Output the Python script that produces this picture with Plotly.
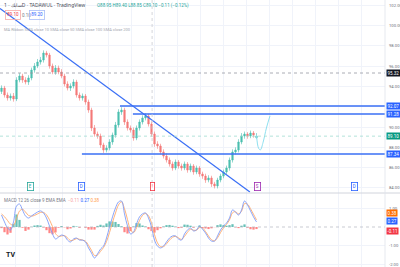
import plotly.graph_objects as go

# ---------------- data ----------------
idx = list(range(86))
opens = [93.50, 93.84, 93.15, 92.86, 93.05, 92.76, 94.63, 95.02, 94.63, 94.43,
         94.83, 95.61, 96.01, 96.40, 96.60, 97.29, 97.09, 96.01, 95.42, 95.81,
         95.42, 95.02, 94.24, 93.84, 94.04, 94.43, 93.15, 92.86, 93.05, 92.46,
         91.67, 89.90, 89.31, 89.11, 88.23, 87.73, 87.93, 88.52, 89.21, 90.20,
         91.48, 91.67, 90.49, 89.90, 89.70, 88.92, 89.90, 90.49, 90.89, 91.08,
         90.30, 89.31, 88.33, 88.13, 87.54, 87.14, 86.75, 86.36, 85.96, 86.55,
         86.16, 85.96, 86.36, 85.76, 86.16, 85.57, 85.96, 85.37, 85.17, 84.78,
         84.98, 84.39, 84.19, 84.78, 85.17, 85.57, 85.96, 86.75, 87.54, 87.73,
         88.52, 89.11, 89.31, 89.11, 89.41, 88.95]
closes = [93.84, 93.15, 92.86, 93.05, 92.76, 94.63, 95.02, 94.63, 94.43, 94.83,
          95.61, 96.01, 96.40, 96.60, 97.29, 97.09, 96.01, 95.42, 95.81, 95.42,
          95.02, 94.24, 93.84, 94.04, 94.43, 93.15, 92.86, 93.05, 92.46, 91.67,
          89.90, 89.31, 89.11, 88.23, 87.73, 87.93, 88.52, 89.21, 90.20, 91.48,
          91.67, 90.49, 89.90, 89.70, 88.92, 89.90, 90.49, 90.89, 91.08, 90.30,
          89.31, 88.33, 88.13, 87.54, 87.14, 86.75, 86.36, 85.96, 86.55, 86.16,
          85.96, 86.36, 85.76, 86.16, 85.57, 85.96, 85.37, 85.17, 84.78, 84.98,
          84.39, 84.19, 84.78, 85.17, 85.57, 85.96, 86.75, 87.54, 87.73, 88.52,
          89.11, 89.31, 89.11, 89.41, 89.21, 89.10]
highs = [94.10, 94.05, 93.40, 93.30, 93.35, 94.90, 95.30, 95.25, 94.90, 95.10,
         95.85, 96.30, 96.70, 96.90, 97.55, 97.50, 97.30, 96.25, 96.10, 96.05,
         95.70, 95.25, 94.50, 94.30, 94.70, 94.65, 93.40, 93.30, 93.25, 92.70,
         91.90, 90.20, 89.55, 89.35, 88.45, 88.20, 88.80, 89.45, 90.50, 91.75,
         91.95, 91.90, 90.75, 90.15, 89.95, 90.15, 90.75, 91.15, 91.35, 91.30,
         90.55, 89.55, 88.60, 88.35, 87.80, 87.40, 87.00, 86.60, 86.80, 86.75,
         86.40, 86.60, 86.55, 86.40, 86.35, 86.20, 86.15, 85.60, 85.40, 85.25,
         85.20, 84.60, 85.00, 85.40, 85.80, 86.20, 87.00, 87.80, 88.00, 88.80,
         89.40, 89.55, 89.50, 89.65, 89.60, 89.40]
lows = [93.25, 92.90, 92.60, 92.60, 92.50, 92.55, 94.40, 94.35, 94.20, 94.15,
        94.60, 95.35, 95.80, 96.15, 96.35, 96.85, 95.75, 95.20, 95.15, 95.20,
        94.80, 94.00, 93.60, 93.55, 93.80, 92.90, 92.60, 92.60, 92.20, 91.40,
        89.60, 89.05, 88.85, 87.95, 87.45, 87.50, 87.70, 88.25, 88.95, 89.95,
        91.20, 90.20, 89.65, 89.45, 88.65, 88.70, 89.65, 90.25, 90.65, 90.05,
        89.05, 88.05, 87.85, 87.30, 86.90, 86.50, 86.10, 85.70, 85.75, 85.90,
        85.70, 85.75, 85.50, 85.55, 85.30, 85.35, 85.10, 84.90, 84.50, 84.55,
        84.10, 83.95, 83.95, 84.55, 84.95, 85.35, 85.70, 86.50, 87.30, 87.50,
        88.30, 88.85, 88.85, 88.90, 88.95, 88.85]

macd = [0.64, 0.27, -0.05, -0.16, 0.27, 1.12, 1.23, 0.91, 0.59, 0.48,
        0.59, 0.70, 0.80, 0.86, 0.75, 0.48, 0.05, -0.37, -0.64, -0.54,
        -0.43, -0.48, -0.70, -0.80, -0.64, -0.59, -0.70, -0.70, -0.80, -1.12,
        -1.39, -1.66, -1.44, -1.18, -1.02, -0.59, 0.00, 0.54, 1.02, 1.34,
        1.39, 0.70, 0.05, -0.37, -0.27, 0.16, 0.54, 0.70, 0.75, 0.48,
        0.00, -0.70, -1.02, -1.12, -1.02, -0.80, -0.59, -0.48, -0.48, -0.64,
        -0.70, -0.37, -0.16, -0.05, -0.21, -0.16, 0.05, -0.11, -0.32, -0.59,
        -0.75, -0.75, -0.48, -0.16, 0.05, 0.21, 0.48, 0.91, 0.80, 0.64,
        0.91, 1.39, 1.18, 0.86, 0.54, 0.27]
signal = [0.70, 0.55, 0.35, 0.15, 0.10, 0.45, 0.85, 0.95, 0.80, 0.62,
          0.58, 0.62, 0.70, 0.78, 0.78, 0.65, 0.38, 0.02, -0.35, -0.50,
          -0.48, -0.46, -0.58, -0.72, -0.70, -0.62, -0.66, -0.70, -0.76, -0.98,
          -1.25, -1.52, -1.50, -1.30, -1.10, -0.78, -0.30, 0.25, 0.75, 1.18,
          1.35, 0.98, 0.40, -0.15, -0.30, -0.05, 0.35, 0.62, 0.72, 0.60,
          0.22, -0.40, -0.85, -1.05, -1.05, -0.90, -0.70, -0.55, -0.50, -0.58,
          -0.66, -0.50, -0.28, -0.12, -0.17, -0.17, -0.03, -0.05, -0.24, -0.48,
          -0.68, -0.74, -0.58, -0.30, -0.05, 0.14, 0.38, 0.76, 0.82, 0.70,
          0.84, 1.25, 1.22, 0.98, 0.68, 0.38]
hist = [-0.06, -0.28, -0.40, -0.31, 0.17, 0.67, 0.38, -0.04, -0.21, -0.14,
        0.01, 0.08, 0.10, 0.08, -0.03, -0.17, -0.33, -0.39, -0.29, -0.04,
        0.05, -0.02, -0.12, -0.08, 0.06, 0.03, -0.04, 0.00, -0.04, -0.14,
        -0.14, -0.14, 0.06, 0.12, 0.08, 0.19, 0.30, 0.29, 0.27, 0.16,
        0.04, -0.28, -0.35, -0.22, 0.03, 0.21, 0.19, 0.08, 0.03, -0.12,
        -0.22, -0.30, -0.17, -0.07, 0.03, 0.10, 0.11, 0.07, 0.02, -0.06,
        -0.04, 0.13, 0.12, 0.07, -0.04, 0.01, 0.08, -0.06, -0.08, -0.11,
        -0.07, -0.01, 0.10, 0.14, 0.10, 0.07, 0.10, 0.15, -0.02, -0.06,
        0.07, 0.14, -0.04, -0.12, -0.14, -0.11]

# drawings (in data units)
trend_x = [-0.5, 82.8]
trend_y = [101.68, 83.60]
level_prices = [92.07, 91.28, 87.34]
level_starts = [39.5, 43.8, 26.8]
proj_x = [85.0, 85.7, 86.3, 87.2, 88.3, 89.5]
proj_y = [89.2, 87.9, 87.75, 88.5, 89.9, 91.1]
alert_price = 95.32
session_x = 50.2
event_x = [9.5, 26.8, 50.2, 85.2, 117.8]
event_txt = ["E", "D", "!", "S", "D"]
event_col = ["#26a69a", "#2962ff", "#f23645", "#9c27b0", "#2962ff"]
price_ticks = [84, 86, 88, 90, 92, 94, 96, 98, 100, 102]
macd_ticks = [1.0, -1.0, -2.0]

# ---------------- geometry ----------------
W, H = 400, 267
XR = [-0.5, 127.83]
split = 1 - 193 / H
FONT = "Roboto"

def py(p):
    return 1 - p / H

fig = go.Figure()

fig.add_trace(go.Candlestick(
    x=idx, open=opens, high=highs, low=lows, close=closes,
    increasing=dict(line=dict(color="#4cbfb0", width=0.6), fillcolor="#4cbfb0"),
    decreasing=dict(line=dict(color="#f47a78", width=0.6), fillcolor="#f47a78"),
    whiskerwidth=0, xaxis="x", yaxis="y", showlegend=False))

fig.add_trace(go.Scatter(x=trend_x, y=trend_y, mode="lines",
                         line=dict(color="#3a6ff5", width=1.2), xaxis="x", yaxis="y", showlegend=False))
for lp, ls in zip(level_prices, level_starts):
    fig.add_trace(go.Scatter(x=[ls, XR[1]], y=[lp, lp], mode="lines",
                             line=dict(color="#3a6ff5", width=1.4), xaxis="x", yaxis="y", showlegend=False))
fig.add_trace(go.Scatter(x=proj_x, y=proj_y, mode="lines", line=dict(color="#8ee0f0", width=1, shape="spline"),
                         xaxis="x", yaxis="y", showlegend=False))
fig.add_trace(go.Scatter(x=XR, y=[alert_price, alert_price], mode="lines",
                         line=dict(color="#9598a1", width=0.8, dash="dot"), xaxis="x", yaxis="y", showlegend=False))
fig.add_trace(go.Scatter(x=XR, y=[closes[-1], closes[-1]], mode="lines",
                         line=dict(color="#9fdcd0", width=0.8, dash="dot"), xaxis="x", yaxis="y", showlegend=False))

hist_col = ["rgba(38,166,154,0.7)" if h >= 0 else "rgba(255,82,82,0.7)" for h in hist]
fig.add_trace(go.Bar(x=idx, y=hist, marker=dict(color=hist_col, line=dict(width=0)), width=0.75,
                     xaxis="x2", yaxis="y2", showlegend=False))
fig.add_trace(go.Scatter(x=idx, y=signal, mode="lines", line=dict(color="#ffa96a", width=0.9, shape="spline"),
                         xaxis="x2", yaxis="y2", showlegend=False))
fig.add_trace(go.Scatter(x=idx, y=macd, mode="lines", line=dict(color="#7d9bf7", width=0.9, shape="spline"),
                         xaxis="x2", yaxis="y2", showlegend=False))
fig.add_trace(go.Scatter(x=XR, y=[0, 0], mode="lines", line=dict(color="#b2b5be", width=0.7, dash="dot"),
                         xaxis="x2", yaxis="y2", showlegend=False))

shapes = []
shapes.append(dict(type="line", xref="x", yref="paper", x0=session_x, x1=session_x, y0=0, y1=1,
                   line=dict(color="#c9cbd1", width=0.8, dash="dot")))
shapes.append(dict(type="line", xref="paper", yref="paper", x0=0, x1=1, y0=split, y1=split,
                   line=dict(color="#d1d4dc", width=1)))
shapes.append(dict(type="line", xref="paper", yref="paper", x0=385 / W, x1=385 / W, y0=0, y1=1,
                   line=dict(color="#e0e3eb", width=0.8)))

ann = []
lab_font = dict(family=FONT, size=4.2, color="#6a6d78")
for t in price_ticks:
    ann.append(dict(xref="paper", yref="y", x=386.5 / W, y=t, text=f"{t:.2f}", showarrow=False,
                    xanchor="left", yanchor="middle", font=lab_font))
for t in macd_ticks:
    ann.append(dict(xref="paper", yref="y2", x=386.5 / W, y=t, text=f"{t:.2f}", showarrow=False,
                    xanchor="left", yanchor="middle", font=lab_font))

def tag(yref, yv, text, bg, yshift=0):
    return dict(xref="paper", yref=yref, x=386 / W, y=yv, text=text, showarrow=False, xanchor="left",
                yanchor="middle", bgcolor=bg, borderpad=0.5, yshift=yshift,
                font=dict(family=FONT, size=4.5, color="white"))

for lp in level_prices:
    ann.append(tag("y", lp, f"{lp:.2f}", "#2962ff"))
ann.append(tag("y", alert_price, f"{alert_price:.2f}", "#131722"))
ann.append(tag("y", closes[-1], f"{closes[-1]:.2f}", "#089981"))
ann.append(tag("y2", signal[-1], f"{signal[-1]:.2f}", "#ff6d00", yshift=7))
ann.append(tag("y2", macd[-1], f"{macd[-1]:.2f}", "#2962ff", yshift=1))
ann.append(tag("y2", hist[-1], f"{hist[-1]:.2f}", "#f23645", yshift=-2))

ann.append(dict(xref="paper", yref="paper", x=2 / W, y=py(5), text="سابك · 1D · TADAWUL · TradingView",
                showarrow=False, xanchor="left", yanchor="middle",
                font=dict(family="Noto Sans, Roboto", size=5, color="#4a4d57")))
ann.append(dict(xref="paper", yref="paper", x=95 / W, y=py(5),
                text="O88.95 H89.40 L88.85 C89.10 −0.11 (−0.12%)", showarrow=False,
                xanchor="left", yanchor="middle", font=dict(family=FONT, size=4.5, color="#26a69a")))
ann.append(dict(xref="paper", yref="paper", x=5 / W, y=py(15), text="89.10", showarrow=False,
                xanchor="left", yanchor="middle", bordercolor="#f7a9a8", borderwidth=0.8, borderpad=1.5,
                font=dict(family=FONT, size=4.5, color="#f23645")))
ann.append(dict(xref="paper", yref="paper", x=20 / W, y=py(15), text="0.10", showarrow=False,
                xanchor="left", yanchor="middle", font=dict(family=FONT, size=4.5, color="#787b86")))
ann.append(dict(xref="paper", yref="paper", x=29 / W, y=py(15), text="89.20", showarrow=False,
                xanchor="left", yanchor="middle", bordercolor="#a9bdf7", borderwidth=0.8, borderpad=1.5,
                font=dict(family=FONT, size=4.5, color="#2962ff")))
ann.append(dict(xref="paper", yref="paper", x=2 / W, y=py(29),
                text="MA Ribbon SMA close 10 SMA close 50 SMA close 100 SMA close 200",
                showarrow=False, xanchor="left", yanchor="middle",
                font=dict(family=FONT, size=4, color="#a3a6af")))
ann.append(dict(xref="paper", yref="paper", x=2 / W, y=py(200),
                text="MACD 12 26 close 9 EMA EMA  <span style='color:#f7a1a1'>−0.11</span> "
                     "<span style='color:#2962ff'>0.27</span> <span style='color:#ff9e50'>0.38</span>",
                showarrow=False, xanchor="left", yanchor="middle",
                font=dict(family=FONT, size=4.5, color="#787b86")))
ann.append(dict(xref="paper", yref="paper", x=4 / W, y=py(255), text="<b>TV</b>", showarrow=False,
                xanchor="left", yanchor="middle", font=dict(family=FONT, size=7, color="#131722")))

for ex, et, ec in zip(event_x, event_txt, event_col):
    ann.append(dict(xref="x", yref="paper", x=ex, y=py(186), text=et, showarrow=False,
                    xanchor="center", yanchor="middle", bordercolor=ec, borderwidth=0.8, borderpad=1,
                    bgcolor="white", font=dict(family=FONT, size=4.5, color=ec)))

grid = "#f0f3fa"
fig.update_layout(
    width=W, height=H, margin=dict(l=0, r=0, t=0, b=0),
    paper_bgcolor="white", plot_bgcolor="white",
    xaxis=dict(domain=[0, 385 / W], range=XR, showticklabels=False, showgrid=True, gridcolor=grid,
               gridwidth=0.8, tick0=4.83, dtick=7.67, zeroline=False, rangeslider=dict(visible=False),
               anchor="y", fixedrange=True),
    yaxis=dict(domain=[split, 1], range=[83.50, 102.51], showticklabels=False, showgrid=True,
               gridcolor=grid, gridwidth=0.8, tickvals=price_ticks, zeroline=False, anchor="x"),
    xaxis2=dict(domain=[0, 385 / W], range=XR, showticklabels=False, showgrid=True, gridcolor=grid,
                gridwidth=0.8, tick0=4.83, dtick=7.67, zeroline=False, anchor="y2", matches="x"),
    yaxis2=dict(domain=[0, split], range=[-2.139, 1.818], showticklabels=False, showgrid=True,
                gridcolor=grid, gridwidth=0.8, tickvals=macd_ticks, zeroline=False, anchor="x2"),
    shapes=shapes, annotations=ann, bargap=0.3, hovermode=False,
)

fig.write_html("out.html")
